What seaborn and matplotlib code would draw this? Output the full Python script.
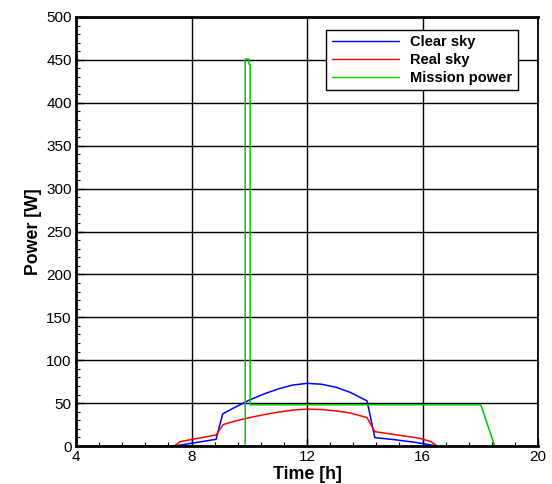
import matplotlib
matplotlib.use("Agg")
import matplotlib.pyplot as plt
import seaborn as sns
import pandas as pd
from matplotlib.ticker import MultipleLocator

sns.set_theme(style="white")
plt.rcParams['font.family'] = ['Liberation Sans', 'DejaVu Sans']
plt.rcParams['text.color'] = 'black'
plt.rcParams['axes.labelcolor'] = 'black'
plt.rcParams['xtick.color'] = 'black'
plt.rcParams['ytick.color'] = 'black'

# Clear sky
clear_t = [7.41, 8.85, 9.08, 9.5, 10.0, 10.5, 11.0, 11.5, 12.0, 12.5, 13.0, 13.5, 14.08, 14.35, 15.0, 15.8, 16.5]
clear_p = [0.0, 7.8, 37.4, 45.0, 53.5, 60.5, 66.5, 71.0, 73.0, 72.0, 68.5, 62.5, 52.5, 9.7, 7.5, 4.0, 0.0]
# Real sky
real_t = [7.41, 7.6, 8.85, 9.1, 9.5, 10.0, 10.5, 11.0, 11.5, 12.0, 12.5, 13.0, 13.5, 14.08, 14.35, 15.0, 15.9, 16.3, 16.5]
real_p = [0.0, 5.0, 12.9, 25.0, 29.0, 33.0, 36.5, 39.5, 41.8, 43.0, 42.5, 41.0, 38.5, 33.0, 16.7, 13.5, 9.0, 5.0, 0.0]
# Mission power
mission_t = [4.0, 9.86, 9.86, 9.99, 9.99, 10.03, 10.03, 18.02, 18.5]
mission_p = [0.0, 0.0, 451.0, 451.0, 445.0, 445.0, 48.0, 48.0, 0.0]

series = ["Clear sky", "Real sky", "Mission power"]
colors = ["#0000ff", "#ff0000", "#00cc00"]

df = pd.concat([
    pd.DataFrame({"t": clear_t, "p": clear_p, "s": series[0]}),
    pd.DataFrame({"t": real_t, "p": real_p, "s": series[1]}),
    pd.DataFrame({"t": mission_t, "p": mission_p, "s": series[2]}),
])

fig = plt.figure(figsize=(5.52, 4.84), dpi=100)
ax = fig.add_axes([76/552, 1-446/484, (538-76)/552, (446-17)/484])

sns.lineplot(data=df, x="t", y="p", hue="s", palette=dict(zip(series, colors)),
             sort=False, estimator=None, ax=ax, linewidth=1.1)

ax.set_xlim(4, 20)
ax.set_ylim(0, 500)
ax.xaxis.set_major_locator(MultipleLocator(4))
ax.xaxis.set_minor_locator(MultipleLocator(0.8))
ax.yaxis.set_major_locator(MultipleLocator(50))
ax.yaxis.set_minor_locator(MultipleLocator(10))
ax.grid(True, which="major", color="black", linewidth=1.0)
ax.set_axisbelow(True)
ax.tick_params(which="major", direction="in", length=6, width=1, colors="black",
               labelsize=11, bottom=True, left=True, top=False, right=False, pad=3)
ax.tick_params(which="minor", direction="in", length=3, width=0.8, colors="black",
               bottom=True, left=True, top=False, right=False)
for s in ax.spines.values():
    s.set_color("black")
    s.set_linewidth(1.3)
ax.spines["left"].set_linewidth(2)
ax.spines["bottom"].set_linewidth(2)
ax.spines["top"].set_linewidth(2)

ax.set_xlabel("Time [h]", fontsize=12.8, fontweight="bold", labelpad=1)
ax.set_ylabel("Power [W]", fontsize=12.8, fontweight="bold", labelpad=3)

leg = ax.legend(loc="upper right", bbox_to_anchor=((518-76)/462, 1-(29.5-17)/429),
                prop={"weight": "bold", "size": 10.5}, frameon=True, fancybox=False,
                handlelength=4.6, handletextpad=0.75, labelspacing=0.25, borderpad=0.4,
                borderaxespad=0)
leg.get_frame().set_edgecolor("black")
leg.get_frame().set_linewidth(1.0)
leg.get_frame().set_alpha(1.0)
for h in leg.get_lines():
    h.set_linewidth(1.0)

fig.savefig("out.png", dpi=100)
